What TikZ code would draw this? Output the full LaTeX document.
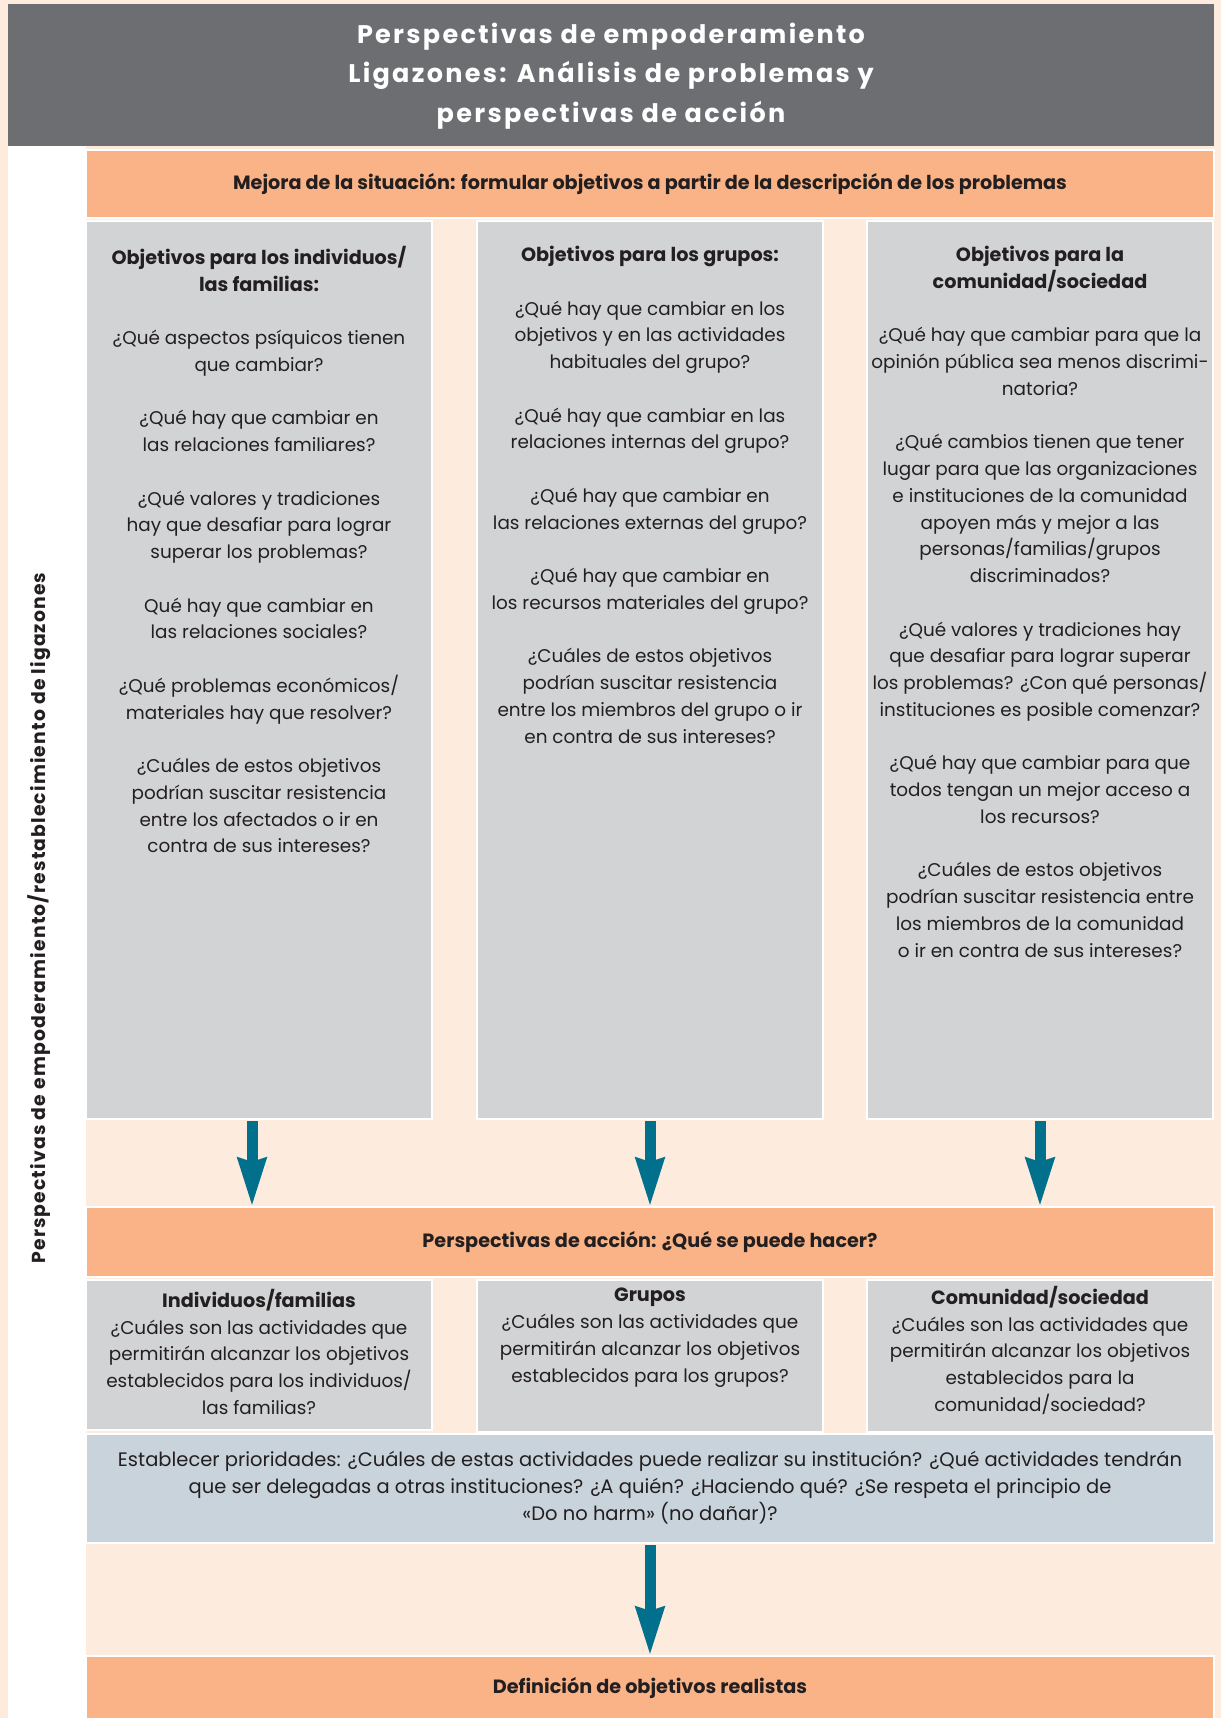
\documentclass[tikz,border=0pt]{standalone}
\usepackage{fontspec}
\setmainfont{Poppins}
\newfontfamily\titlefont[LetterSpace=9]{Poppins}
\newfontfamily\sidefont[LetterSpace=6]{Poppins}
\usetikzlibrary{positioning, calc, arrows.meta}

\definecolor{hdrgray}{HTML}{6D6E71}
\definecolor{bandorange}{HTML}{F9B386}
\definecolor{peach}{HTML}{FDEBDD}
\definecolor{boxgray}{HTML}{D1D3D4}
\definecolor{prioblue}{HTML}{C9D3DB}
\definecolor{arrowteal}{HTML}{00708C}
\definecolor{ink}{HTML}{231F20}

\newcommand{\bodyfont}{\fontsize{18.4}{26.75}\selectfont}
\newcommand{\headfont}{\bfseries\fontsize{19.2}{26.75}\selectfont}
\newcommand{\hd}[1]{{\headfont #1}}
\newcommand{\colgap}{\\[26.75pt]}

\begin{document}
\begin{tikzpicture}[x=1pt, y=-1pt,
  plain box/.style={anchor=north west, inner sep=0pt, outer sep=0pt, draw=white, line width=1.5pt},
  gray box/.style={plain box, fill=boxgray, minimum width=346pt},
  band box/.style={plain box, fill=bandorange, minimum width=1128pt, font=\headfont, text=ink},
  col text/.style={align=center, inner sep=0pt, anchor=north, text=ink, font=\bodyfont},
  flow/.style={draw=arrowteal, line width=11pt, -{Stealth[length=48pt, width=27pt, inset=3pt]}}]
  \useasboundingbox (0,0) rectangle (1221,1718);
  \fill[peach] (0,0) rectangle (1221,1718);
  \fill[white] (8,146) rectangle (86,1718);

  % title
  \node[plain box, draw=none, fill=hdrgray, minimum width=1206pt, minimum height=142pt] (head) at (8,4) {};
  \node[align=center, text=white, font=\titlefont\bfseries\fontsize{25.5}{39.5}\selectfont] (title) at ([yshift=-1pt]head.center)
    {Perspectivas de empoderamiento\\Ligazones: Análisis de problemas y\\perspectivas de acción};

  \node[rotate=90, text=ink, font=\sidefont\bfseries\fontsize{18.8}{20}\selectfont] (side) at (39,918)
    {Perspectivas de empoderamiento/restablecimiento de ligazones};

  % objectives
  \node[band box, minimum height=68pt] (mejora) at (86,150)
    {Mejora de la situación: formular objetivos a partir de la descripción de los problemas};
  \node[gray box, minimum height=898pt] (obj1) at (86,221) {};
  \node[gray box, minimum height=898pt] (obj2) at (477,221) {};
  \node[gray box, minimum height=898pt] (obj3) at (867,221) {};

  \node[col text] (obj1t) at ([yshift=-25pt]obj1.north)
    {\hd{Objetivos para los individuos/}\\\hd{las familias:}\colgap
     ¿Qué aspectos psíquicos tienen\\que cambiar?\colgap
     ¿Qué hay que cambiar en\\las relaciones familiares?\colgap
     ¿Qué valores y tradiciones\\hay que desafiar para lograr\\superar los problemas?\colgap
     Qué hay que cambiar en\\las relaciones sociales?\colgap
     ¿Qué problemas económicos/\\materiales hay que resolver?\colgap
     ¿Cuáles de estos objetivos\\podrían suscitar resistencia\\entre los afectados o ir en\\contra de sus intereses?};
  \node[col text] (obj2t) at ([yshift=-25pt]obj2.north)
    {\hd{Objetivos para los grupos:}\colgap
     ¿Qué hay que cambiar en los\\objetivos y en las actividades\\habituales del grupo?\colgap
     ¿Qué hay que cambiar en las\\relaciones internas del grupo?\colgap
     ¿Qué hay que cambiar en\\las relaciones externas del grupo?\colgap
     ¿Qué hay que cambiar en\\los recursos materiales del grupo?\colgap
     ¿Cuáles de estos objetivos\\podrían suscitar resistencia\\entre los miembros del grupo o ir\\en contra de sus intereses?};
  \node[col text] (obj3t) at ([yshift=-25pt]obj3.north)
    {\hd{Objetivos para la}\\\hd{comunidad/sociedad}\colgap
     ¿Qué hay que cambiar para que la\\opinión pública sea menos discrimi-\\natoria?\colgap
     ¿Qué cambios tienen que tener\\lugar para que las organizaciones\\e instituciones de la comunidad\\apoyen más y mejor a las\\personas/familias/grupos\\discriminados?\colgap
     ¿Qué valores y tradiciones hay\\que desafiar para lograr superar\\los problemas? ¿Con qué personas/\\instituciones es posible comenzar?\colgap
     ¿Qué hay que cambiar para que\\todos tengan un mejor acceso a\\los recursos?\colgap
     ¿Cuáles de estos objetivos\\podrían suscitar resistencia entre\\los miembros de la comunidad\\o ir en contra de sus intereses?};

  % actions
  \node[band box, minimum height=70pt] (accion) at (86,1207)
    {Perspectivas de acción: ¿Qué se puede hacer?};
  \node[gray box, minimum height=150pt] (act1) at (86,1280) {};
  \node[gray box, minimum height=152pt] (act2) at (477,1280) {};
  \node[gray box, minimum height=152pt] (act3) at (867,1280) {};
  \node[col text] (act1t) at ([yshift=-9pt]act1.north)
    {\hd{Individuos/familias}\\¿Cuáles son las actividades que\\permitirán alcanzar los objetivos\\establecidos para los individuos/\\las familias?};
  \node[col text] (act2t) at ([yshift=-8pt]act2.north)
    {\hd{Grupos}\\¿Cuáles son las actividades que\\permitirán alcanzar los objetivos\\establecidos para los grupos?};
  \node[col text] (act3t) at ([yshift=-6pt]act3.north)
    {\hd{Comunidad/sociedad}\\¿Cuáles son las actividades que\\permitirán alcanzar los objetivos\\establecidos para la\\comunidad/sociedad?};

  \node[plain box, fill=prioblue, minimum width=1128pt, minimum height=109pt] (prio) at (86,1434) {};
  \node[col text, font=\fontsize{19.5}{27}\selectfont] (priot) at ([yshift=-17pt]prio.north)
    {Establecer prioridades: ¿Cuáles de estas actividades puede realizar su institución? ¿Qué actividades tendrán\\que ser delegadas a otras instituciones? ¿A quién? ¿Haciendo qué? ¿Se respeta el principio de\\«Do no harm» (no dañar)?};

  \node[band box, minimum height=64pt] (final) at (86,1656)
    {Definición de objetivos realistas};

  % arrows
  \draw[flow] ([xshift=-7pt, yshift=-2pt]obj1.south) -- ([xshift=-7pt]obj1.south |- accion.north);
  \draw[flow] ([yshift=-2pt]obj2.south) -- (obj2.south |- accion.north);
  \draw[flow] ([yshift=-2pt]obj3.south) -- (obj3.south |- accion.north);
  \draw[flow] ([yshift=-2pt]prio.south) -- (prio.south |- final.north);
\end{tikzpicture}
\end{document}
